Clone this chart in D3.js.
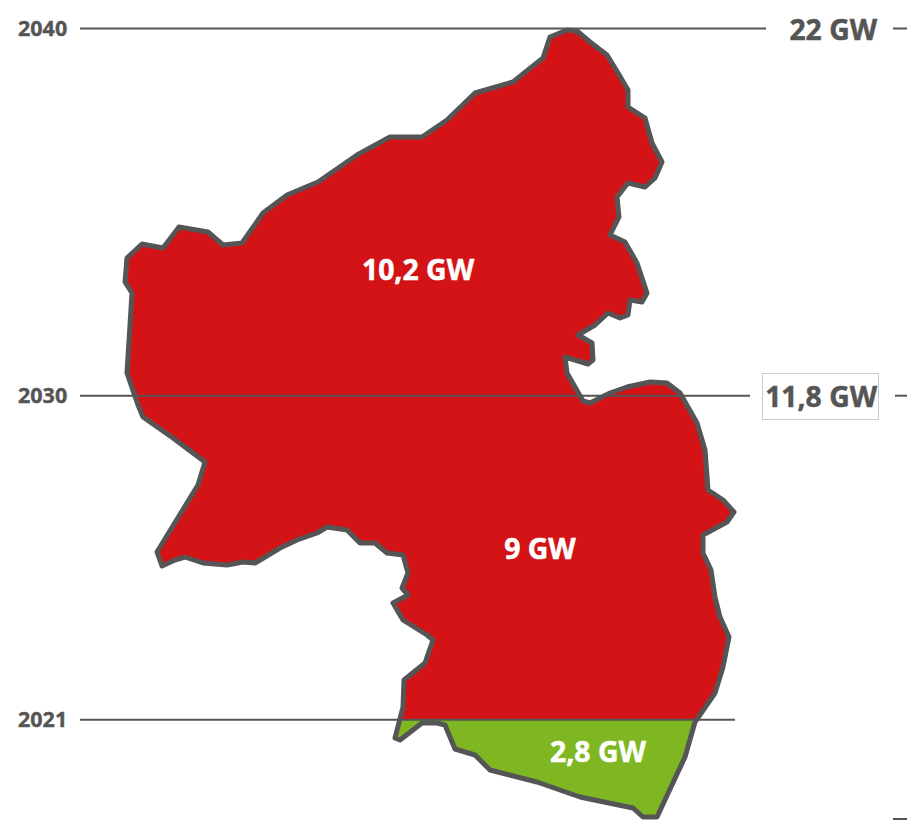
<!DOCTYPE html>
<html><head><meta charset="utf-8">
<script src="https://cdn.jsdelivr.net/npm/d3@7"></script>
<style>html,body{margin:0;padding:0;background:#fff}svg{display:block}text{font-family:"Open Sans",sans-serif;font-weight:700}</style>
</head><body><svg id="c" width="907" height="820"></svg>
<script>
const years = ["2021", "2030", "2040"];
const totals = [2.8, 11.8, 22];
const totalLabels = [null, "11,8 GW", "22 GW"];
const segments = ["2,8 GW", "9 GW", "10,2 GW"];
const segmentEast = [498, 440, 318];
const segmentGW = [1.9, 7.54, 15.29];
const outlineEast = [477,490,507,518,528,528,545,552,562,555,545,528,517,519,510,525,537,547,542,530,528,520,508,495,478,492,493,488,465,467,483,490,510,527,550,567,580,597,605,608,623,634,627,603,603,611,615,620,629,623,615,595,585,557,543,533,480,437,390,375,355,345,337,322,300,295,303,304,325,333,327,303,293,308,302,308,303,287,275,260,247,227,217,197,180,155,143,127,103,85,75,62,57,98,105,73,43,38,27,32,25,27,42,63,79,108,123,142,163,187,218,257,290,322,347,375,413,443,450,467];
const outlineNorth = [790,779,766,748,731,714,703,678,659,643,634,638,624,604,586,579,558,528,519,521,506,503,508,496,486,478,461,457,464,448,420,418,428,434,439,438,428,398,371,331,321,309,299,286,268,251,224,204,184,154,128,99,64,4,4,13,24,39,51,66,72,96,98,98,81,83,114,141,158,181,186,201,218,226,233,248,266,268,278,278,291,294,288,281,273,258,259,256,258,264,261,255,269,336,359,383,404,416,448,528,539,563,577,573,594,589,576,578,608,626,639,666,684,684,701,728,739,763,784,791];

const GREY = "#555", RED = "#d41317", GREEN = "#7fb722";
const svg = d3.select("#c");
const x = d3.scaleLinear().domain([0, 807]).range([100, 907]);
const yOutline = d3.scaleLinear().domain([0, 793]).range([821, 28]);
const y = d3.scaleLinear().domain([0, 22]).range([820.5, 28.5]);

const outline = outlineEast.map((e, i) => [e, outlineNorth[i]]);
const line = d3.line().x(d => x(d[0])).y(d => yOutline(d[1])).curve(d3.curveLinearClosed);
const outlineD = line(outline);

const defs = svg.append("defs");
defs.append("clipPath").attr("id", "above").append("rect")
  .attr("x", 0).attr("width", 907).attr("y", 0).attr("height", y(totals[0]));
defs.append("clipPath").attr("id", "below").append("rect")
  .attr("x", 0).attr("width", 907).attr("y", y(totals[0])).attr("height", 820 - y(totals[0]));

svg.append("path").attr("d", outlineD).attr("fill", RED).attr("clip-path", "url(#above)");
svg.append("path").attr("d", outlineD).attr("fill", GREEN).attr("clip-path", "url(#below)");
svg.append("path").attr("d", outlineD).attr("fill", "none").attr("stroke", GREY)
  .attr("stroke-width", 5).attr("stroke-linejoin", "round");

// level lines
const lineEnd = [735, 750, 766];
svg.selectAll(".lvl").data(totals).join("line").attr("class", "lvl")
  .attr("x1", 80).attr("x2", (d, i) => lineEnd[i])
  .attr("y1", d => y(d)).attr("y2", d => y(d))
  .attr("stroke", GREY).attr("stroke-width", 2);

// right-hand stubs
[totals[1], totals[2], 0].forEach((v, i) => {
  svg.append("line").attr("x1", [895, 893, 893][i]).attr("x2", 907)
    .attr("y1", v === 0 ? 819 : y(v)).attr("y2", v === 0 ? 819 : y(v))
    .attr("stroke", GREY).attr("stroke-width", 2);
});

// year labels
svg.selectAll(".yr").data(years).join("text").attr("class", "yr")
  .attr("x", 18).attr("y", (d, i) => y(totals[i]))
  .attr("dy", "0.35em").attr("font-size", 21.5).attr("fill", GREY)
  .attr("stroke", GREY).attr("stroke-width", 0.4).text(d => d);

// boxed total
svg.append("rect").attr("x", 762.5).attr("y", 373.5).attr("width", 116).attr("height", 46)
  .attr("fill", "#fff").attr("stroke", "#ccc").attr("stroke-width", 1);

// total labels
totalLabels.forEach((t, i) => {
  if (!t) return;
  svg.append("text").attr("x", 877).attr("y", y(totals[i]) + (i === 2 ? 2 : 1))
    .attr("text-anchor", "end").attr("dy", "0.35em").attr("font-size", 28.3)
    .attr("fill", GREY).attr("stroke", GREY).attr("stroke-width", 0.5).text(t);
});

// segment labels
svg.selectAll(".seg").data(segments).join("text").attr("class", "seg")
  .attr("x", (d, i) => x(segmentEast[i])).attr("y", (d, i) => y(segmentGW[i]))
  .attr("text-anchor", "middle").attr("dy", "0.35em").attr("font-size", 28.4)
  .attr("fill", "#fff").attr("stroke", "#fff").attr("stroke-width", 0.5).text(d => d);
</script></body></html>
